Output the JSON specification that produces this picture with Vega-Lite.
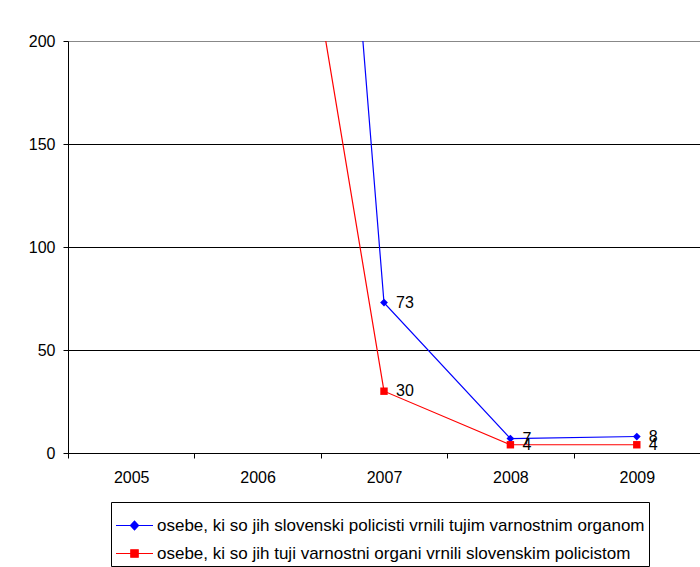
{
  "$schema": "https://vega.github.io/schema/vega-lite/v6.json",
  "width": 632,
  "height": 412,
  "autosize": {"type": "none"},
  "padding": {"left": 68, "top": 41, "right": 0, "bottom": 114},
  "background": "white",
  "config": {
    "view": {"stroke": null},
    "font": "Liberation Sans",
    "axis": {"labelFont": "Liberation Sans", "labelFontSize": 16, "labelColor": "black", "domainColor": "black", "tickColor": "black", "titleFontSize": 16}
  },
  "data": {
    "values": [
      {"year": "2006", "series": "osebe, ki so jih slovenski policisti vrnili tujim varnostnim organom", "value": 834},
      {"year": "2007", "series": "osebe, ki so jih slovenski policisti vrnili tujim varnostnim organom", "value": 73},
      {"year": "2008", "series": "osebe, ki so jih slovenski policisti vrnili tujim varnostnim organom", "value": 7},
      {"year": "2009", "series": "osebe, ki so jih slovenski policisti vrnili tujim varnostnim organom", "value": 8},
      {"year": "2006", "series": "osebe, ki so jih tuji varnostni organi vrnili slovenskim policistom", "value": 399},
      {"year": "2007", "series": "osebe, ki so jih tuji varnostni organi vrnili slovenskim policistom", "value": 30},
      {"year": "2008", "series": "osebe, ki so jih tuji varnostni organi vrnili slovenskim policistom", "value": 4},
      {"year": "2009", "series": "osebe, ki so jih tuji varnostni organi vrnili slovenskim policistom", "value": 4}
    ]
  },
  "encoding": {
    "x": {
      "field": "year", "type": "ordinal", "bandPosition": 0.5,
      "scale": {"type": "band", "domain": ["2005", "2006", "2007", "2008", "2009"], "paddingInner": 0, "paddingOuter": 0},
      "axis": {"title": null, "labelAngle": 0, "tickBand": "extent", "tickSize": 5, "labelPadding": 11, "domainWidth": 1, "grid": false}
    },
    "y": {
      "field": "value", "type": "quantitative",
      "scale": {"domain": [0, 200], "nice": false, "zero": true},
      "axis": {"title": null, "values": [0, 50, 100, 150, 200], "tickSize": 5, "labelPadding": 8, "grid": true,
        "gridColor": {"condition": {"test": "datum.value == 200", "value": "#888888"}, "value": "black"}, "gridWidth": 1, "gridOpacity": 1}
    }
  },
  "layer": [
    {
      "mark": {"type": "line", "clip": true, "strokeWidth": 1.2},
      "encoding": {
        "color": {
          "field": "series", "type": "nominal",
          "scale": {"domain": ["osebe, ki so jih slovenski policisti vrnili tujim varnostnim organom", "osebe, ki so jih tuji varnostni organi vrnili slovenskim policistom"], "range": ["#0000FF", "#FF0000"]},
          "legend": {
            "title": null, "orient": "none", "legendX": 43, "legendY": 461,
            "strokeColor": "black", "fillColor": "white", "padding": 4,
            "labelFont": "Liberation Sans", "labelFontSize": 17, "labelColor": "black", "labelLimit": 1000,
            "symbolSize": 1369, "symbolStrokeWidth": 1.2, "rowPadding": -10, "labelOffset": 3,
            "encode": {
              "symbols": {
                "update": {
                  "shape": {"signal": "datum.value === 'osebe, ki so jih slovenski policisti vrnili tujim varnostnim organom' ? 'M-1,0L1,0M0,-0.24L0.22,0L0,0.24L-0.22,0Z' : 'M-1,0L1,0M-0.2,-0.2L0.2,-0.2L0.2,0.2L-0.2,0.2Z'"},
                  "fill": {"signal": "datum.value === 'osebe, ki so jih slovenski policisti vrnili tujim varnostnim organom' ? '#0000FF' : '#FF0000'"},
                  "fillOpacity": {"value": 1}
                }
              }
            }
          }
        }
      }
    },
    {
      "transform": [{"filter": "datum.year != '2006' && datum.series == 'osebe, ki so jih slovenski policisti vrnili tujim varnostnim organom'"}],
      "mark": {"type": "point", "shape": "diamond", "filled": true, "opacity": 1, "size": 60, "color": "#0000FF"}
    },
    {
      "transform": [{"filter": "datum.year != '2006' && datum.series == 'osebe, ki so jih tuji varnostni organi vrnili slovenskim policistom'"}],
      "mark": {"type": "point", "shape": "square", "filled": true, "opacity": 1, "size": 55, "color": "#FF0000"}
    },
    {
      "transform": [{"filter": "datum.year != '2006'"}],
      "mark": {"type": "text", "align": "left", "baseline": "middle", "dx": 12, "fontSize": 16, "font": "Liberation Sans", "color": "black"},
      "encoding": {
        "text": {"field": "value", "type": "quantitative"}
      }
    }
  ]
}
